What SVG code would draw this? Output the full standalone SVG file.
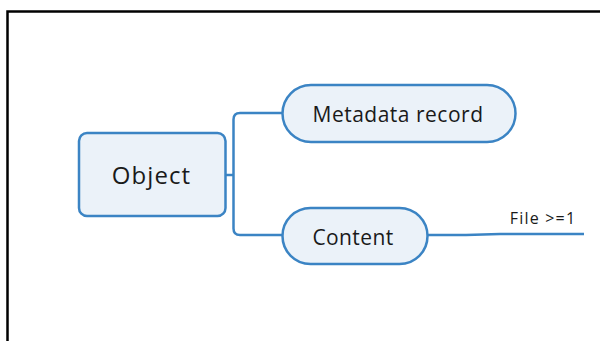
<svg xmlns="http://www.w3.org/2000/svg" width="600" height="341" viewBox="0 0 600 341">
  <style>
    .node { fill: #ebf2f9; stroke: #3b84c4; stroke-width: 2.5; }
    .link { fill: none; stroke: #3b84c4; stroke-width: 2.5; }
    .label { font-family: "Open Sans", "Noto Sans", sans-serif; fill: #1a1a1a; text-anchor: middle; }
  </style>
  <rect x="0" y="0" width="600" height="341" fill="#ffffff"/>
  <!-- outer frame -->
  <rect x="7.5" y="11.5" width="640" height="400" fill="none" stroke="#000000" stroke-width="2.5"/>

  <g id="connectors">
    <path class="link" d="M226 175 H233.5"/>
    <path class="link" d="M283 113 H240 Q233.5 113 233.5 119.5 V228.5 Q233.5 235 240 235 H283"/>
    <path class="link" d="M428 235 H466 L500 234 H584"/>
    <text class="label" x="543" y="224" font-size="16" letter-spacing="1.2">File &gt;=1</text>
  </g>

  <g id="object">
    <rect class="node" x="79" y="133" width="146.5" height="83" rx="8"/>
    <text class="label" x="151.5" y="184" font-size="24" letter-spacing="1.1">Object</text>
  </g>

  <g id="metadata-record">
    <rect class="node" x="282.5" y="85" width="233" height="57" rx="28.5"/>
    <text class="label" x="398" y="122" font-size="21" letter-spacing="0.5">Metadata record</text>
  </g>

  <g id="content">
    <rect class="node" x="282.5" y="208" width="145" height="56" rx="28"/>
    <text class="label" x="353" y="245" font-size="21" letter-spacing="0.4">Content</text>
  </g>
</svg>
